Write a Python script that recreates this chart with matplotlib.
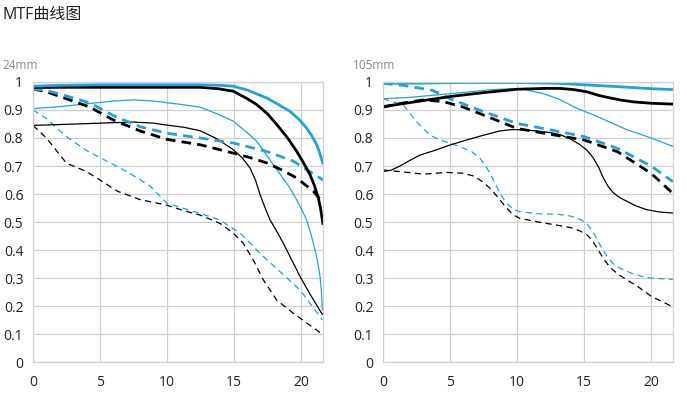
import matplotlib.pyplot as plt

plt.rcParams['font.family'] = ['Open Sans', 'Noto Sans CJK SC', 'DejaVu Sans']

BLUE = '#1fa3da'
GRID = '#d0d0d0'

# ---- 24mm data (field position in mm, MTF value) ----
w_thick_blue_x = [0, 2, 5, 8, 10, 12.5, 14, 14.95, 16, 17.44, 18.4, 19.18, 19.9, 20.4, 20.8, 21.17, 21.4, 21.63]
w_thick_blue_y = [0.985, 0.988, 0.99, 0.99, 0.99, 0.99, 0.988, 0.985, 0.971, 0.943, 0.917, 0.895, 0.864, 0.836, 0.808, 0.776, 0.745, 0.71]

w_thick_black_x = [0, 2, 5, 8, 10, 12.46, 13.8, 14.95, 16, 16.7, 17.5, 18.19, 19, 19.68, 20.2, 20.67, 21.0, 21.29, 21.45, 21.63]
w_thick_black_y = [0.98, 0.981, 0.981, 0.981, 0.981, 0.981, 0.976, 0.967, 0.94, 0.919, 0.886, 0.848, 0.80, 0.752, 0.71, 0.669, 0.63, 0.586, 0.55, 0.495]

w_thick_bdash_x = [0, 1, 2.5, 4.25, 6, 8, 10, 12.46, 14.95, 17.44, 19.43, 21.42, 21.63]
w_thick_bdash_y = [0.975, 0.97, 0.95, 0.925, 0.88, 0.84, 0.817, 0.80, 0.782, 0.752, 0.717, 0.657, 0.65]

w_thick_kdash_x = [0, 1, 2.5, 4.25, 6, 8, 10, 12.46, 14.95, 16.2, 17.44, 18.6, 19.68, 20.92, 21.63]
w_thick_kdash_y = [0.975, 0.965, 0.94, 0.91, 0.864, 0.825, 0.795, 0.776, 0.746, 0.73, 0.711, 0.685, 0.657, 0.61, 0.57]

w_thin_blue_x = [0, 2, 4, 6, 7.5, 9, 11, 12.46, 13.8, 14.95, 16, 16.7, 17.3, 17.93, 18.6, 19.18, 19.68, 20.05, 20.42, 20.75, 21.04, 21.25, 21.42, 21.52, 21.6]
w_thin_blue_y = [0.905, 0.912, 0.922, 0.932, 0.936, 0.932, 0.92, 0.91, 0.885, 0.86, 0.818, 0.788, 0.748, 0.705, 0.66, 0.621, 0.579, 0.545, 0.507, 0.455, 0.40, 0.355, 0.305, 0.25, 0.186]

w_thin_black_x = [0, 2, 5, 7.5, 9, 10, 11.3, 12.46, 13.7, 14.95, 15.6, 16.19, 16.6, 16.94, 17.2, 17.45, 17.69, 18.15, 18.68, 19.3, 19.93, 20.7, 21.54, 21.63]
w_thin_black_y = [0.845, 0.848, 0.853, 0.857, 0.853, 0.846, 0.838, 0.826, 0.798, 0.758, 0.73, 0.693, 0.65, 0.598, 0.565, 0.535, 0.507, 0.47, 0.424, 0.365, 0.305, 0.24, 0.174, 0.17]

w_thin_bdash_x = [0, 1, 2.5, 4, 5, 7, 8.7, 10, 11.3, 12.46, 13.96, 15.45, 16.2, 16.94, 18.43, 19.93, 21.42, 21.6]
w_thin_bdash_y = [0.90, 0.87, 0.805, 0.755, 0.73, 0.68, 0.63, 0.567, 0.548, 0.531, 0.507, 0.46, 0.425, 0.388, 0.323, 0.257, 0.162, 0.15]

w_thin_kdash_x = [0, 1, 2.5, 4, 5, 6.3, 8, 10, 11.3, 12.46, 13.96, 14.95, 15.7, 16.44, 17.19, 18.19, 19.43, 21.17, 21.55]
w_thin_kdash_y = [0.845, 0.80, 0.71, 0.68, 0.65, 0.61, 0.58, 0.56, 0.54, 0.525, 0.495, 0.46, 0.424, 0.364, 0.293, 0.221, 0.174, 0.114, 0.10]

# ---- 105mm data ----
t_thick_blue_x = [0, 3, 6, 10, 13.2, 15, 18, 20, 21.63]
t_thick_blue_y = [0.995, 0.996, 0.998, 0.998, 0.995, 0.99, 0.982, 0.976, 0.973]

t_thin_blue_x = [0, 2, 5, 8, 9.5, 10.5, 12, 13.21, 14.5, 15.69, 17, 18.19, 20, 21.63]
t_thin_blue_y = [0.94, 0.945, 0.958, 0.972, 0.976, 0.974, 0.958, 0.937, 0.905, 0.883, 0.855, 0.83, 0.8, 0.77]

t_thick_black_x = [0, 2.5, 5, 7.5, 10, 12, 13.21, 14.2, 15.2, 16.1, 16.94, 17.8, 18.68, 20, 21.63]
t_thick_black_y = [0.912, 0.93, 0.948, 0.962, 0.974, 0.977, 0.977, 0.973, 0.965, 0.952, 0.943, 0.935, 0.929, 0.924, 0.921]

t_thick_bdash_x = [0, 1.5, 3.7, 5, 7.5, 10, 12.5, 15, 17.5, 20, 21.63]
t_thick_bdash_y = [0.995, 0.988, 0.97, 0.94, 0.894, 0.852, 0.829, 0.805, 0.763, 0.70, 0.644]

t_thick_kdash_x = [0, 1.5, 3, 4.5, 6, 7.5, 10, 12.5, 15, 17.5, 20, 21.63]
t_thick_kdash_y = [0.91, 0.925, 0.936, 0.93, 0.91, 0.882, 0.834, 0.813, 0.793, 0.751, 0.674, 0.602]

t_thin_black_x = [0, 0.6, 1.27, 2, 2.76, 4, 5, 6.25, 7.5, 8.7, 9.6, 10.5, 11.5, 12.4, 13.21, 14, 14.7, 15.2, 15.69, 16.1, 16.44, 16.8, 17.19, 17.7, 18.19, 18.9, 19.68, 20.6, 21.63]
t_thin_black_y = [0.68, 0.685, 0.70, 0.72, 0.739, 0.758, 0.775, 0.793, 0.81, 0.825, 0.83, 0.829, 0.825, 0.82, 0.812, 0.796, 0.776, 0.757, 0.729, 0.694, 0.657, 0.627, 0.604, 0.586, 0.574, 0.557, 0.544, 0.536, 0.532]

t_thin_bdash_x = [0, 1.5, 2.5, 3.5, 4.25, 5.75, 6.6, 7.24, 7.65, 7.99, 8.36, 8.73, 9.1, 9.48, 9.85, 10.22, 11.7, 13, 14, 14.7, 15.2, 15.6, 16, 16.4, 16.8, 17.2, 17.7, 18.5, 19.3, 20, 21.63]
t_thin_bdash_y = [0.94, 0.918, 0.858, 0.81, 0.793, 0.769, 0.752, 0.727, 0.70, 0.674, 0.638, 0.602, 0.575, 0.555, 0.543, 0.537, 0.529, 0.528, 0.521, 0.51, 0.495, 0.47, 0.436, 0.40, 0.372, 0.35, 0.335, 0.318, 0.306, 0.30, 0.295]

t_thin_kdash_x = [0, 1.27, 3, 4.75, 6, 6.7, 7.24, 7.6, 7.99, 8.36, 8.73, 9.1, 9.48, 9.85, 10.22, 11.7, 12.96, 14, 14.7, 15.2, 15.6, 16, 16.44, 16.9, 17.5, 18.3, 19, 20, 21.63]
t_thin_kdash_y = [0.686, 0.68, 0.671, 0.677, 0.674, 0.665, 0.65, 0.637, 0.62, 0.60, 0.579, 0.557, 0.537, 0.522, 0.513, 0.499, 0.489, 0.48, 0.468, 0.455, 0.435, 0.405, 0.37, 0.34, 0.315, 0.29, 0.27, 0.235, 0.197]

yticks = [0, 0.1, 0.2, 0.3, 0.4, 0.5, 0.6, 0.7, 0.8, 0.9, 1]
ytick_labels = ['0', '0.1', '0.2', '0.3', '0.4', '0.5', '0.6', '0.7', '0.8', '0.9', '1']
xticks = [0, 5, 10, 15, 20]

fig = plt.figure(figsize=(6.87, 3.97), dpi=100)
fig.text(0.004, 0.962, 'MTF曲线图', fontsize=11.5, color='#222222', va='center', ha='left')

thick = 2.0
thin = 0.9
thick_dash = (0, (3.5, 2.2))
thin_dash = (0, (5, 3.5))


def setup(ax, label):
    ax.set_xlim(0, 21.63)
    ax.set_ylim(0, 1)
    ax.set_xticks(xticks)
    ax.set_yticks(yticks)
    ax.set_yticklabels(ytick_labels)
    ax.grid(True, color=GRID, linewidth=0.9)
    ax.set_axisbelow(True)
    for s in ax.spines.values():
        s.set_color(GRID)
        s.set_linewidth(0.9)
    ax.tick_params(length=0, labelsize=10, colors='#222222')
    ax.tick_params(axis='y', pad=7)
    ax.tick_params(axis='x', pad=9)
    ax.text(-0.105, 1.06, label, transform=ax.transAxes, fontsize=8.5, color='#888888',
            ha='left', va='center')


ax1 = fig.add_axes([0.048, 0.088, 0.422, 0.7055])
setup(ax1, '24mm')
ax1.plot(w_thin_kdash_x, w_thin_kdash_y, color='black', lw=thin, linestyle=thin_dash)
ax1.plot(w_thin_bdash_x, w_thin_bdash_y, color=BLUE, lw=thin, linestyle=thin_dash)
ax1.plot(w_thin_black_x, w_thin_black_y, color='black', lw=thin)
ax1.plot(w_thin_blue_x, w_thin_blue_y, color=BLUE, lw=thin)
ax1.plot(w_thick_kdash_x, w_thick_kdash_y, color='black', lw=thick, linestyle=thick_dash)
ax1.plot(w_thick_bdash_x, w_thick_bdash_y, color=BLUE, lw=thick, linestyle=thick_dash)
ax1.plot(w_thick_black_x, w_thick_black_y, color='black', lw=thick)
ax1.plot(w_thick_blue_x, w_thick_blue_y, color=BLUE, lw=thick)

ax2 = fig.add_axes([0.5575, 0.088, 0.422, 0.7055])
setup(ax2, '105mm')
ax2.plot(t_thin_kdash_x, t_thin_kdash_y, color='black', lw=thin, linestyle=thin_dash)
ax2.plot(t_thin_bdash_x, t_thin_bdash_y, color=BLUE, lw=thin, linestyle=thin_dash)
ax2.plot(t_thin_black_x, t_thin_black_y, color='black', lw=thin)
ax2.plot(t_thin_blue_x, t_thin_blue_y, color=BLUE, lw=thin)
ax2.plot(t_thick_kdash_x, t_thick_kdash_y, color='black', lw=thick, linestyle=thick_dash)
ax2.plot(t_thick_bdash_x, t_thick_bdash_y, color=BLUE, lw=thick, linestyle=thick_dash)
ax2.plot(t_thick_black_x, t_thick_black_y, color='black', lw=thick)
ax2.plot(t_thick_blue_x, t_thick_blue_y, color=BLUE, lw=thick)

fig.savefig('out.png', dpi=100)
